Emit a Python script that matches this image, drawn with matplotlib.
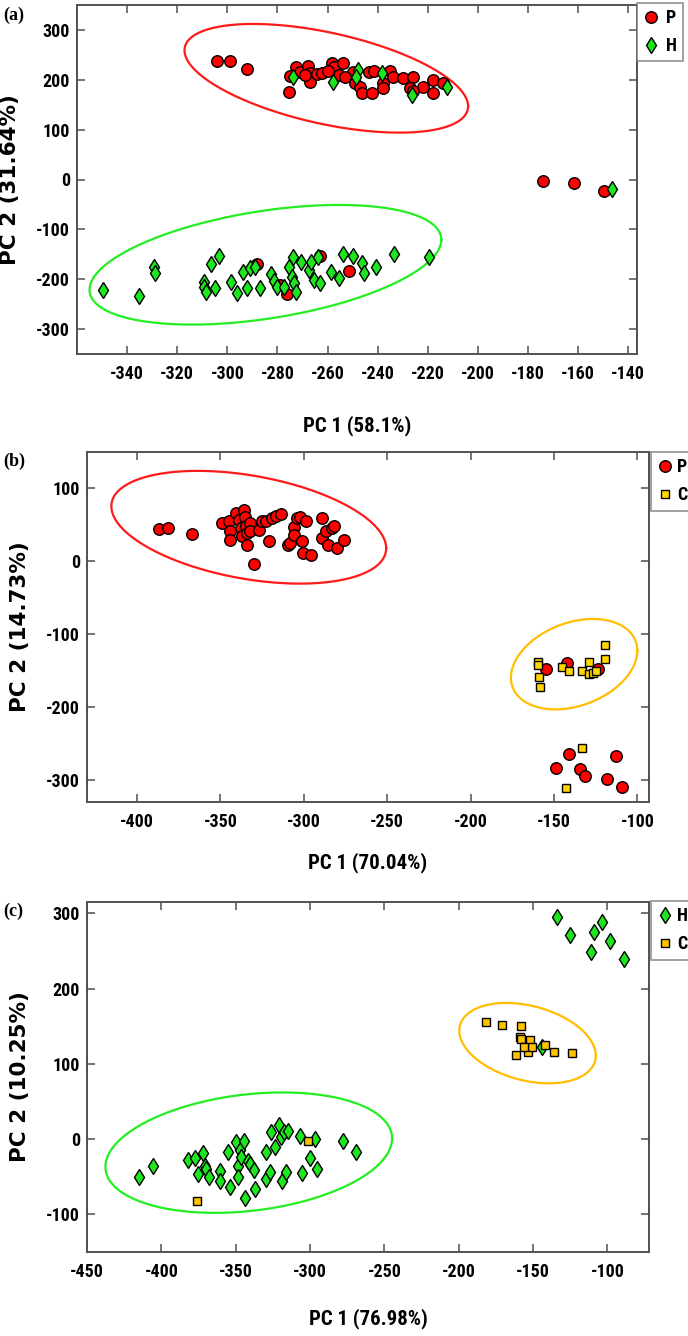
import numpy as np
import matplotlib
matplotlib.use("Agg")
import matplotlib.pyplot as plt
from matplotlib import font_manager
from matplotlib.lines import Line2D

# narrow bold font for ticks if one is installed, else plain Liberation Sans a bit smaller
names = {f.name for f in font_manager.fontManager.ttflist}
NARROW = None
for cand in ["Liberation Sans Narrow", "Arial Narrow", "Roboto Condensed",
             "Open Sans Condensed", "Noto Sans Condensed", "DejaVu Sans Condensed"]:
    if cand in names:
        NARROW = cand
        break
if NARROW in ("Liberation Sans Narrow", "Arial Narrow", "Roboto Condensed", "Open Sans Condensed"):
    TICK_SIZE, XLAB_SIZE, LEG_SIZE = 13, 15, 13
elif NARROW is not None:
    TICK_SIZE, XLAB_SIZE, LEG_SIZE = 12, 14, 13
else:
    NARROW = "Liberation Sans"
    TICK_SIZE, XLAB_SIZE, LEG_SIZE = 12, 14, 12.5

plt.rcParams["font.family"] = [NARROW, "DejaVu Sans"]
plt.rcParams["font.weight"] = "bold"
plt.rcParams["axes.unicode_minus"] = False

# ---------------- data ----------------
# panel (a): P vs H
pa_x = [-304, -299, -292, -272.6, -275, -275.4, -271, -267.7, -267, -267, -264.3, -262.3,
        -258.4, -257.7, -257.3, -255.3, -254, -250, -249, -247, -246.4, -243.3, -241.5,
        -242.4, -237.8, -237.8, -235, -234, -230, -226, -227, -222, -217.8, -218, -214,
        -269, -260, -253, -226, -174, -161.8, -149.5, -288.2, -276, -251.5, -263.2, -279]
pa_y = [238, 238, 221, 226, 208, 176, 216, 228, 213, 196, 212, 213, 234, 221, 226, 210,
        233, 216, 193, 186, 173, 216, 217, 173, 193, 183, 217, 206, 203, 206, 183, 186,
        200, 173, 193, 210, 218, 205, 178, -4, -7, -24, -170, -230, -183, -154, -212]
ha_x = [-273.7, -258, -247.7, -248.6, -238.4, -226.4, -212.2, -146.5,
        -349.7, -335.1, -329.2, -328.8, -309.5, -309.3, -308.5, -306.5, -303.4, -305,
        -298.4, -296, -293.6, -292.3, -291, -289, -286.9, -282.4, -281.5, -280.1, -277.2,
        -275.4, -274, -273.6, -273.5, -272.7, -270.7, -267.3, -266.6, -265.3, -263.9,
        -263.2, -258.5, -255.5, -254, -249.7, -246.3, -245.3, -240.7, -233.5, -219.7]
ha_y = [205, 196, 220, 206, 213, 170, 186, -19,
        -222, -234, -176, -188, -205, -215, -225, -170, -154, -218, -205, -227, -185,
        -218, -178, -175, -218, -190, -203, -215, -215, -175, -195, -155, -207, -225,
        -165, -182, -165, -202, -155, -208, -185, -198, -150, -154, -168, -188, -176,
        -150, -155]

# panel (b): P vs C
pb_x = [-387, -381.7, -367.2, -349.2, -344.7, -344, -344, -340.4, -338.6, -337.8,
        -337.2, -335.9, -335.4, -334.6, -334, -334, -332.5, -332, -330.1, -326.6,
        -325.3, -322.7, -320.8, -319.2, -316.6, -313.9, -309.4, -308.1, -306, -306,
        -304.1, -302, -301, -300.2, -298.8, -295.6, -289, -288.8, -286.9, -285.6,
        -283, -281.6, -279.8, -275.8, -154.8, -142, -123.4,
        -148.7, -140.7, -134.6, -131.5, -118, -112.7, -108.9]
pb_y = [44.5, 45.9, 37.6, 52.8, 56, 41.3, 29.8, 66.5, 57.3, 45.9,
        34.4, 70.2, 61, 48.2, 39, 23, 52.8, 41.3, -3.2, 43.6,
        55, 55, 27.5, 59.6, 62.8, 65.1, 23, 25.2, 47.2, 36.7,
        59.6, 61, 27.5, 11.5, 55, 9.2, 59.6, 32.1, 41.3, 23,
        45.9, 49.1, 18.3, 29.8, -148, -139, -148,
        -283, -263.8, -284.4, -295, -298, -267.4, -309.6]
cb_x = [-159.4, -159.4, -159, -158.4, -145.4, -140.8, -133.4, -128.8, -129, -126.4,
        -124.5, -119.4, -119.4, -133.3, -142.6]
cb_y = [-137.5, -142, -159, -172, -145, -151, -151, -137.5, -154.5, -153.6,
        -151, -114.6, -133.8, -255.5, -311]

# panel (c): H vs C
hc_x = [-133.6, -125.3, -110.7, -109, -103.3, -98, -89.1, -143.9,
        -415.3, -405.5, -382.1, -377.3, -375.3, -372.3, -370.8, -369.9, -367.8, -360.4,
        -360.4, -355.4, -353.9, -349.5, -348.6, -348.6, -347, -346.2, -344.1, -343.5,
        -341.7, -340.3, -337.6, -337.3, -329.9, -329.3, -327.2, -326.3, -323.3, -321,
        -319.5, -318.9, -317.4, -315.9, -314.5, -307, -305.3, -300.2, -296.7, -295.2,
        -278, -269.1]
hc_y = [295.6, 271.7, 248.2, 274.8, 288, 263.7, 239.3, 122,
        -50.8, -35.3, -27.8, -25.1, -46.4, -18.9, -35.3, -39.8, -50.8, -42,
        -55.3, -16.7, -63.2, -4.3, -35.3, -50.8, -14.5, -24.3, -2.1, -78.3,
        -28.7, -33.1, -40.6, -66.3, -16.7, -53, -44.2, 9, -11, 19.2,
        2.4, -55.3, 9, -44.2, 10.3, 3.6, -45.5, -25.1, 0.1, -39.8,
        -3, -17.6]
cc_x = [-181.6, -170.6, -158.2, -158.8, -158.2, -161.7, -153.4, -151.9, -150.5, -155.8,
        -141.9, -135.6, -123.8, -301.1, -376.2]
cc_y = [156, 152, 150.7, 135, 133, 111.7, 115.3, 131.7, 122, 122,
        125.5, 116, 114.4, -2.1, -81.8]

# confidence ellipses: centre x, centre y, x semi-range, y semi-range, phase (deg)
ell_a = [(-260.5, 203, 56.6, 109, 121), (-284.8, -171, 70.2, 120, 65.3)]
ell_b = [(-333, 46.8, 82.4, 77.3, 111.8), (-137.9, -141, 37.9, 62, 72.7)]
ell_c = [(-341.2, -18, 96.4, 80, 76.4), (-153.7, 127.5, 45.9, 53.4, 108.1)]

xlabels = ["PC 1 (58.1%)", "PC 1 (70.04%)", "PC 1 (76.98%)"]
ylabels = ["PC 2 (31.64%)", "PC 2 (14.73%)", "PC 2 (10.25%)"]
panel_tags = ["(a)", "(b)", "(c)"]

RED = "#ff0000"
GREEN = "#1ee61e"
GOLD_B = "#ffd600"
GOLD_C = "#ffc000"
ELL_RED = "#ff1a1a"
ELL_GREEN = "#22ee22"
ELL_GOLD = "#ffbe00"
SPINE = "#505050"

styles = {
    "P": dict(marker="o", ms=8.3, mfc=RED),
    "H": dict(marker="d", ms=8.6, mfc=GREEN),
    "C": dict(marker="s", ms=6.0),
}


def draw_ellipse(ax, e, color):
    cx, cy, rx, ry, phi = e
    t = np.linspace(0, 2 * np.pi, 300)
    ax.plot(cx + rx * np.cos(t), cy + ry * np.cos(t - np.deg2rad(phi)),
            color=color, lw=1.6, zorder=1)


def pts(ax, x, y, key, face=None):
    st = dict(styles[key])
    if face is not None:
        st["mfc"] = face
    ax.plot(x, y, ls="none", mec="black", mew=1.0, zorder=3, **st)
    return Line2D([], [], ls="none", mec="black", mew=1.0, **st)


def style_axes(ax, xlim, ylim, xticks, yticks):
    ax.set_xlim(*xlim)
    ax.set_ylim(*ylim)
    ax.set_xticks(xticks)
    ax.set_yticks(yticks)
    for s in ax.spines.values():
        s.set_color(SPINE)
        s.set_linewidth(1.4)
    ax.tick_params(direction="in", length=6, width=1.1, color=SPINE,
                   top=True, right=True, labelsize=TICK_SIZE, pad=8)
    ax.tick_params(axis="y", pad=5)


def legend(ax, handles, labels, anchor, textpad=0.35):
    leg = ax.legend(handles, labels, loc="upper left", bbox_to_anchor=anchor,
                    borderaxespad=0, frameon=True, fancybox=False,
                    handlelength=0.9, handletextpad=textpad, borderpad=0.35,
                    labelspacing=0.55, prop=dict(weight="bold", size=LEG_SIZE))
    leg.get_frame().set_edgecolor("#777777")
    leg.get_frame().set_linewidth(1.2)


fig = plt.figure(figsize=(6.88, 13.36), dpi=100)
W, H = 688, 1336


def add_axes(l, r, t, b):
    return fig.add_axes([l / W, 1 - b / H, (r - l) / W, (b - t) / H])


ax_a = add_axes(77, 637, 5, 354)
ax_b = add_axes(87, 649, 452, 802)
ax_c = add_axes(87, 649, 902, 1252)

# (a)
draw_ellipse(ax_a, ell_a[0], ELL_RED)
draw_ellipse(ax_a, ell_a[1], ELL_GREEN)
hp = pts(ax_a, pa_x, pa_y, "P")
hh = pts(ax_a, ha_x, ha_y, "H")
style_axes(ax_a, (-360, -136.5), (-350, 350), np.arange(-340, -139, 20), np.arange(-300, 301, 100))
legend(ax_a, [hp, hh], ["P", "H"], (1.0, 1.006))

# (b)
draw_ellipse(ax_b, ell_b[0], ELL_RED)
draw_ellipse(ax_b, ell_b[1], ELL_GOLD)
hp = pts(ax_b, pb_x, pb_y, "P")
hc = pts(ax_b, cb_x, cb_y, "C", GOLD_B)
style_axes(ax_b, (-430, -93), (-330, 150), np.arange(-400, -99, 50), np.arange(-300, 101, 100))
legend(ax_b, [hp, hc], ["P", "C"], (1.003, 1.0), textpad=0.2)

# (c)
draw_ellipse(ax_c, ell_c[0], ELL_GREEN)
draw_ellipse(ax_c, ell_c[1], ELL_GOLD)
hh = pts(ax_c, hc_x, hc_y, "H")
hc = pts(ax_c, cc_x, cc_y, "C", GOLD_C)
style_axes(ax_c, (-450, -72), (-150, 315), np.arange(-450, -99, 50), np.arange(-100, 301, 100))
legend(ax_c, [hh, hc], ["H", "C"], (1.003, 1.003), textpad=0.2)

xlab_pos = [-0.175, -0.143, -0.16]
for ax, xl, yl, tag, xp in zip([ax_a, ax_b, ax_c], xlabels, ylabels, panel_tags, xlab_pos):
    ax.set_xlabel(xl, weight="bold", size=XLAB_SIZE)
    ax.xaxis.set_label_coords(0.5, xp)
    ax.set_ylabel(yl, family="DejaVu Sans", weight="bold", size=15.5)
    ax.yaxis.set_label_coords(-0.102, 0.5)

fig.text(3 / W, 1 - 15 / H, "(a)", family="Liberation Serif", weight="bold", size=13, va="center")
fig.text(3 / W, 1 - 461 / H, "(b)", family="Liberation Serif", weight="bold", size=13, va="center")
fig.text(3 / W, 1 - 911 / H, "(c)", family="Liberation Serif", weight="bold", size=13, va="center")

fig.savefig("out.png", dpi=100)
